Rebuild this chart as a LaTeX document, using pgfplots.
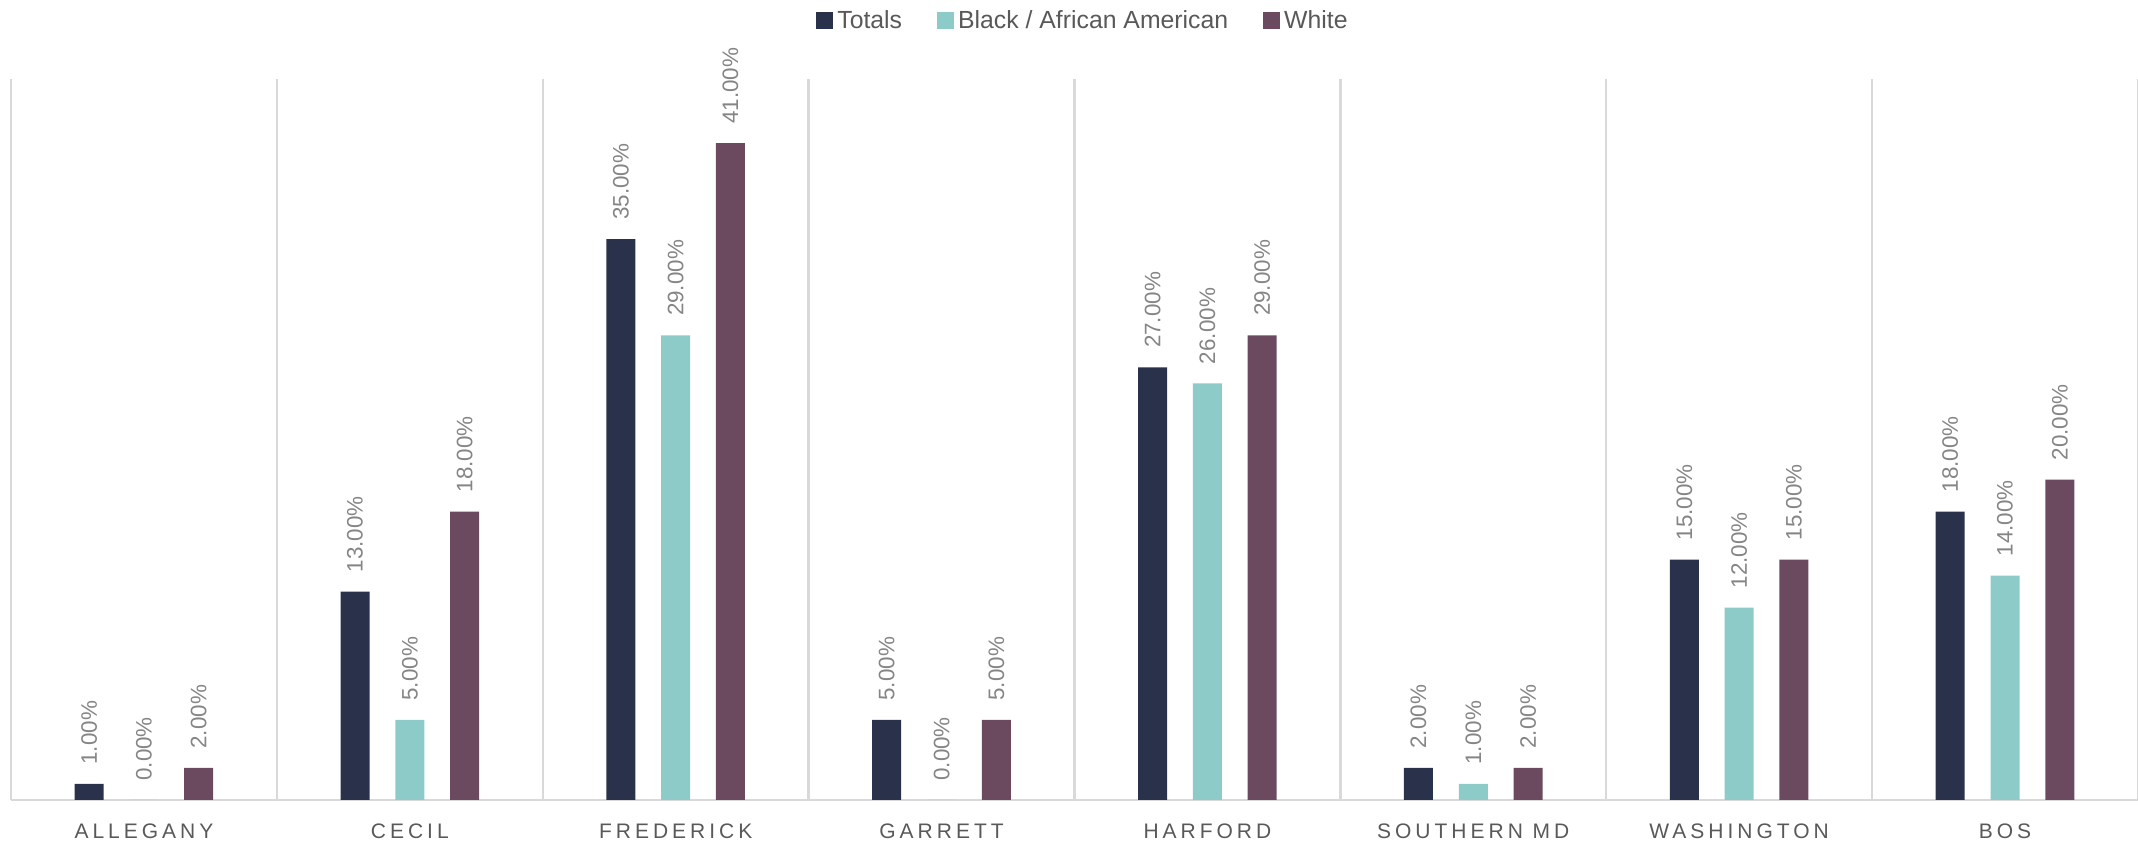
\documentclass[border=0pt]{standalone}
\usepackage{fontspec}
\setmainfont{Liberation Sans}
\newfontfamily\spaced[LetterSpace=19]{Liberation Sans}
\usepackage{pgfplots}
\pgfplotsset{compat=1.18}
\definecolor{cTot}{HTML}{29324A}
\definecolor{cBlk}{HTML}{8DCBC8}
\definecolor{cWht}{HTML}{6B4A5F}
\definecolor{gridc}{HTML}{D9D9D9}
\definecolor{labc}{HTML}{595959}
\definecolor{valc}{HTML}{858585}
\begin{document}
\begin{tikzpicture}
\begin{axis}[
  at={(0,0)}, anchor=south west,
  scale only axis,
  width=1063.5pt, height=360.5pt,
  xmin=-0.5, xmax=7.5, ymin=0, ymax=45,
  ybar, bar width=14.5pt,
  axis x line*=bottom, axis y line=none,
  axis line style={gridc, line width=1.2pt, -},
  xtick={0,...,7},
  xticklabels={ALLEGANY, CECIL, FREDERICK, GARRETT, HARFORD, SOUTHERN MD, WASHINGTON, BOS},
  major tick length=0pt,
  minor xtick={-0.5,0.5,...,7.5},
  minor tick length=0pt,
  xminorgrids,
  minor grid style={gridc, line width=1.2pt},
  xticklabel style={font=\spaced\fontsize{10.5}{12}\selectfont, text=labc, inner sep=0pt, anchor=north, yshift=-11.5pt},
  clip=false,
  point meta=y,
  /pgf/number format/assume math mode=true,
  nodes near coords={\pgfmathprintnumber[fixed,fixed zerofill,precision=2]{\pgfplotspointmeta}\%},
  nodes near coords style={rotate=90, anchor=west, font=\fontsize{11.2}{13}\selectfont, text=valc, inner sep=0pt, inner xsep=9.5pt},
  legend columns=3,
  legend style={draw=none, fill=none, at={(0.5,1)}, anchor=center, xshift=3.75pt, yshift=29pt,
    font=\fontsize{12.4}{14}\selectfont, text=labc,
    nodes={inner sep=0pt},
    /tikz/every odd column/.style={column sep=2pt},
    /tikz/every even column/.style={column sep=17.5pt}},
  legend image code/.code={\fill[#1] (0pt,-4.25pt) rectangle (8.5pt,4.25pt);},
]
\addplot[fill=cTot, draw=none, bar shift=-27.4pt] coordinates {(0,1) (1,13) (2,35) (3,5) (4,27) (5,2) (6,15) (7,18)};
\addlegendentry{Totals}
\addplot[fill=cBlk, draw=none, bar shift=0pt] coordinates {(0,0) (1,5) (2,29) (3,0) (4,26) (5,1) (6,12) (7,14)};
\addlegendentry{Black / African American}
\addplot[fill=cWht, draw=none, bar shift=27.4pt] coordinates {(0,2) (1,18) (2,41) (3,5) (4,29) (5,2) (6,15) (7,20)};
\addlegendentry{White}
\end{axis}
\pgfresetboundingbox
\useasboundingbox (-5.5pt,-22pt) rectangle (1063.5pt,400pt);
\end{tikzpicture}
\end{document}
